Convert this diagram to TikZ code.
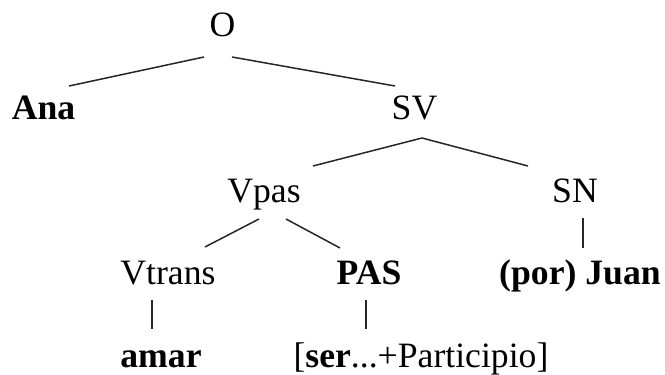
\documentclass[tikz,border=0pt]{standalone}
\usepackage{fontspec}
\setmainfont{Liberation Serif}
\usepackage{tikz}
\usetikzlibrary{calc}

\begin{document}
\begin{tikzpicture}[x=0.3pt,y=-0.3pt,
    cat/.style={anchor=base,inner sep=0pt,font=\fontsize{10.7}{12}\selectfont},
    lex/.style={cat,font=\fontsize{10.7}{12}\selectfont\bfseries},
    branch/.style={draw,line width=0.45pt,black!85}]

  \useasboundingbox (0,0) rectangle (665,375);

  % categories, placed at their baselines
  \node [cat] (O)      at (222.5,37) {O};
  \node [lex] (Ana)    at (43.5,120) {Ana};
  \node [cat] (SV)     at (414.5,120) {SV};
  \node [cat] (Vpas)   at (264,203) {Vpas};
  \node [cat] (SN)     at (575,203) {SN};
  \node [cat] (Vtrans) at (168,285) {Vtrans};
  \node [lex] (PAS)    at (369,285) {PAS};
  \node [cat] (Juan)   at (580,285) {\textbf{(por) Juan}};
  \node [lex] (amar)   at (161,368) {amar};
  \node [cat] (ser)    at (421,368) {[\textbf{ser}...+Participio]};

  \path [branch]
    ($(O.base)+(-18.5,20)$) edge ($(Ana.base)+(25.5,-34)$)
    ($(O.base)+(9.5,20)$) edge ($(SV.base)+(-19.5,-34)$);

  \path [branch]
    ($(SV.base)+(7.5,18)$) edge ($(Vpas.base)+(49,-37)$)
    ($(SV.base)+(7.5,18)$) edge ($(SN.base)+(-47,-37)$);

  \path [branch]
    ($(Vpas.base)+(-5,16)$) edge ($(Vtrans.base)+(37,-38)$)
    ($(Vpas.base)+(22,16)$) edge ($(PAS.base)+(-29,-37)$)
    ($(SN.base)+(8,15)$) edge ($(Juan.base)+(3,-37)$);

  \path [branch]
    ($(Vtrans.base)+(-16,15)$) edge ($(amar.base)+(-9,-39)$)
    ($(PAS.base)+(-3,15)$) edge ($(ser.base)+(-55,-39)$);

\end{tikzpicture}
\end{document}
